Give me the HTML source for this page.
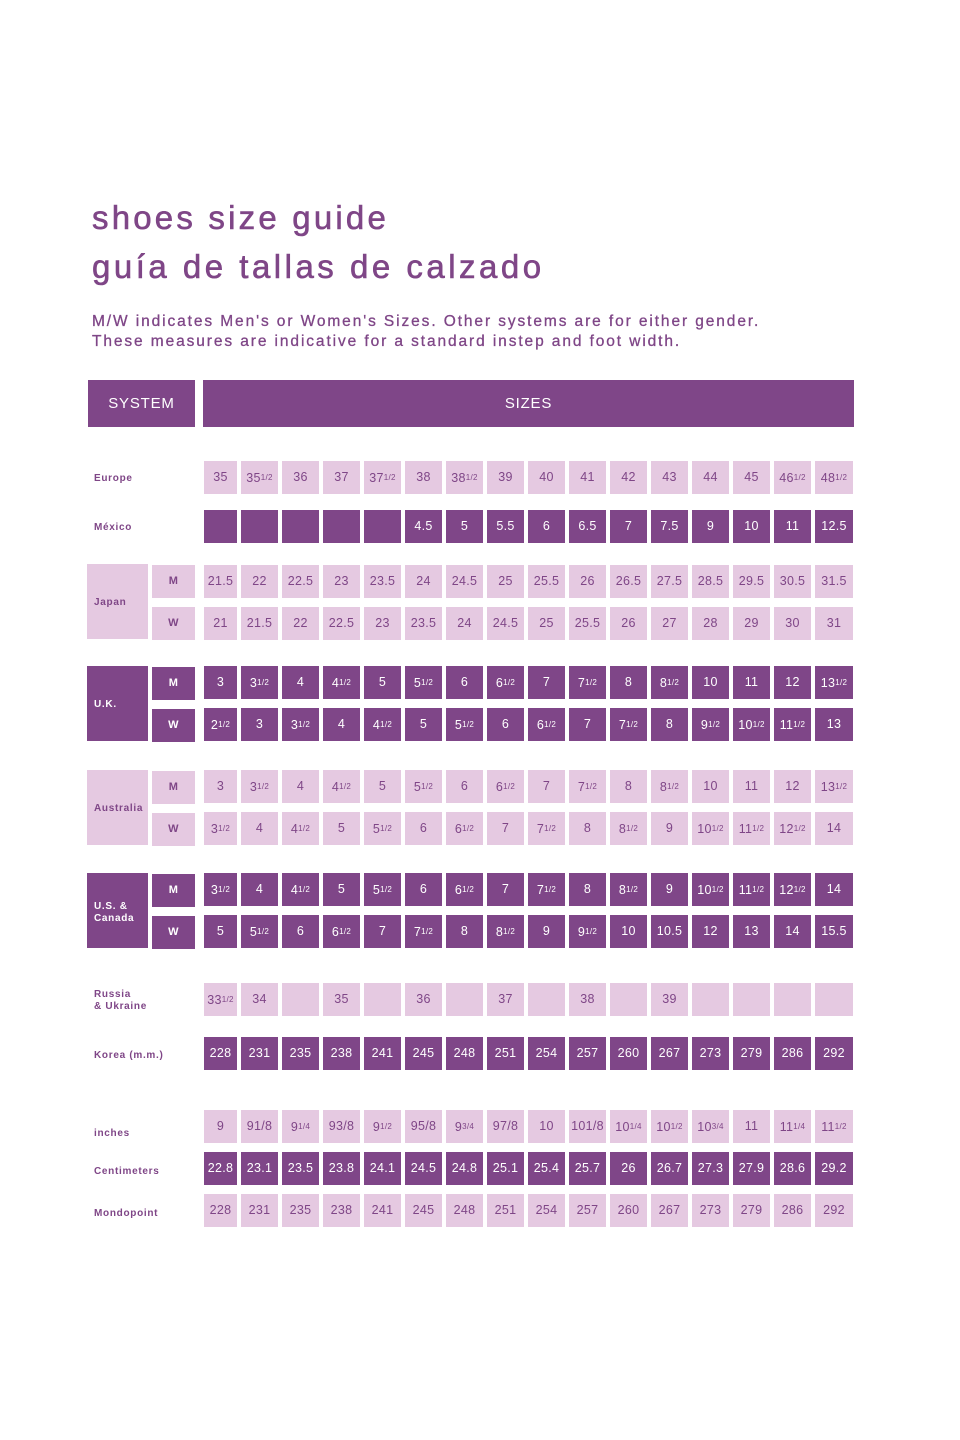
<!DOCTYPE html>
<html><head><meta charset="utf-8">
<style>
body{margin:0;width:960px;height:1440px;background:#fff;position:relative;font-family:"Liberation Sans",sans-serif;color:#7f4687;overflow:hidden}
.a{position:absolute}
.t{position:absolute;left:92px;font-size:33px;letter-spacing:3.2px;white-space:nowrap;line-height:1;-webkit-text-stroke:0.6px #7f4687}
.s{position:absolute;left:92px;font-size:15.5px;letter-spacing:1.9px;white-space:nowrap;line-height:1;-webkit-text-stroke:0.3px #7f4687}
.c{position:absolute;height:33px;line-height:33px;text-align:center;font-size:12.5px;letter-spacing:0.3px}
.L{background:#e5c9e1;color:#7f4687}
.D{background:#7f4688;color:#fff}
.lb{position:absolute;left:94px;font-size:10px;font-weight:bold;letter-spacing:0.7px;line-height:12px}
small{font-size:8px;vertical-align:2px}
</style></head><body>
<div class="t" style="top:201px">shoes size guide</div>
<div class="t" style="top:250px;letter-spacing:3.5px">guía de tallas de calzado</div>
<div class="s" style="top:314px">M/W indicates Men's or Women's Sizes. Other systems are for either gender.</div>
<div class="s" style="top:334px">These measures are indicative for a standard instep and foot width.</div>
<div class="a D" style="left:88px;top:380px;width:107px;height:47px;line-height:47px;text-align:center;font-size:15px;letter-spacing:0.8px">SYSTEM</div>
<div class="a D" style="left:203px;top:380px;width:651px;height:47px;line-height:47px;text-align:center;font-size:15px;letter-spacing:0.8px">SIZES</div>
<div id="g"></div>
<script>
var H={h:'<small>1/2</small>',q:'<small>1/4</small>',t:'<small>3/4</small>'};
function f(v){return String(v).replace(/^([0-9]+)([hqt])$/,function(m,a,b){return a+H[b]});}
var rows=[
[461,'L',"35 35h 36 37 37h 38 38h 39 40 41 42 43 44 45 46h 48h"],
[510,'D',"_ _ _ _ _ 4.5 5 5.5 6 6.5 7 7.5 9 10 11 12.5"],
[565,'L',"21.5 22 22.5 23 23.5 24 24.5 25 25.5 26 26.5 27.5 28.5 29.5 30.5 31.5"],
[607,'L',"21 21.5 22 22.5 23 23.5 24 24.5 25 25.5 26 27 28 29 30 31"],
[666,'D',"3 3h 4 4h 5 5h 6 6h 7 7h 8 8h 10 11 12 13h"],
[708,'D',"2h 3 3h 4 4h 5 5h 6 6h 7 7h 8 9h 10h 11h 13"],
[770,'L',"3 3h 4 4h 5 5h 6 6h 7 7h 8 8h 10 11 12 13h"],
[812,'L',"3h 4 4h 5 5h 6 6h 7 7h 8 8h 9 10h 11h 12h 14"],
[873,'D',"3h 4 4h 5 5h 6 6h 7 7h 8 8h 9 10h 11h 12h 14"],
[915,'D',"5 5h 6 6h 7 7h 8 8h 9 9h 10 10.5 12 13 14 15.5"],
[983,'L',"33h 34 _ 35 _ 36 _ 37 _ 38 _ 39 _ _ _ _"],
[1037,'D',"228 231 235 238 241 245 248 251 254 257 260 267 273 279 286 292"],
[1110,'L',"9 91/8 9q 93/8 9h 95/8 9t 97/8 10 101/8 10q 10h 10t 11 11q 11h"],
[1152,'D',"22.8 23.1 23.5 23.8 24.1 24.5 24.8 25.1 25.4 25.7 26 26.7 27.3 27.9 28.6 29.2"],
[1194,'L',"228 231 235 238 241 245 248 251 254 257 260 267 273 279 286 292"]];
var o='';
rows.forEach(function(r){r[2].split(' ').forEach(function(v,i){
 var x=i==0?204:241+41*(i-1),w=i==0?33:37;if(i==15)w=38;
 o+='<div class="c '+r[1]+'" style="left:'+x+'px;top:'+r[0]+'px;width:'+w+'px">'+(v=='_'?'':f(v))+'</div>';});});
[[564,'L','Japan'],[666,'D','U.K.'],[770,'L','Australia'],[873,'D','U.S. &amp;<br>Canada']].forEach(function(b){
 o+='<div class="a '+b[1]+'" style="left:87px;top:'+b[0]+'px;width:61px;height:75px"></div>';
 var tc=b[1]=='D'?'#fff':'#7f4687';
 o+='<div class="lb" style="top:'+(b[0]+(b[2].indexOf('br')>0?28:33))+'px;color:'+tc+'">'+b[2]+'</div>';
 o+='<div class="c '+b[1]+'" style="left:152px;top:'+(b[0]+1)+'px;width:43px;font-size:11px;font-weight:bold">M</div>';
 o+='<div class="c '+b[1]+'" style="left:152px;top:'+(b[0]+43)+'px;width:43px;font-size:11px;font-weight:bold">W</div>';});
[[473,'Europe'],[522,'México'],[989,'Russia<br>&amp; Ukraine'],[1050,'Korea (m.m.)'],[1128,'inches'],[1166,'Centimeters'],[1208,'Mondopoint']].forEach(function(l){
 o+='<div class="lb" style="top:'+l[0]+'px">'+l[1]+'</div>';});
document.getElementById('g').innerHTML=o;
</script>
</body></html>
